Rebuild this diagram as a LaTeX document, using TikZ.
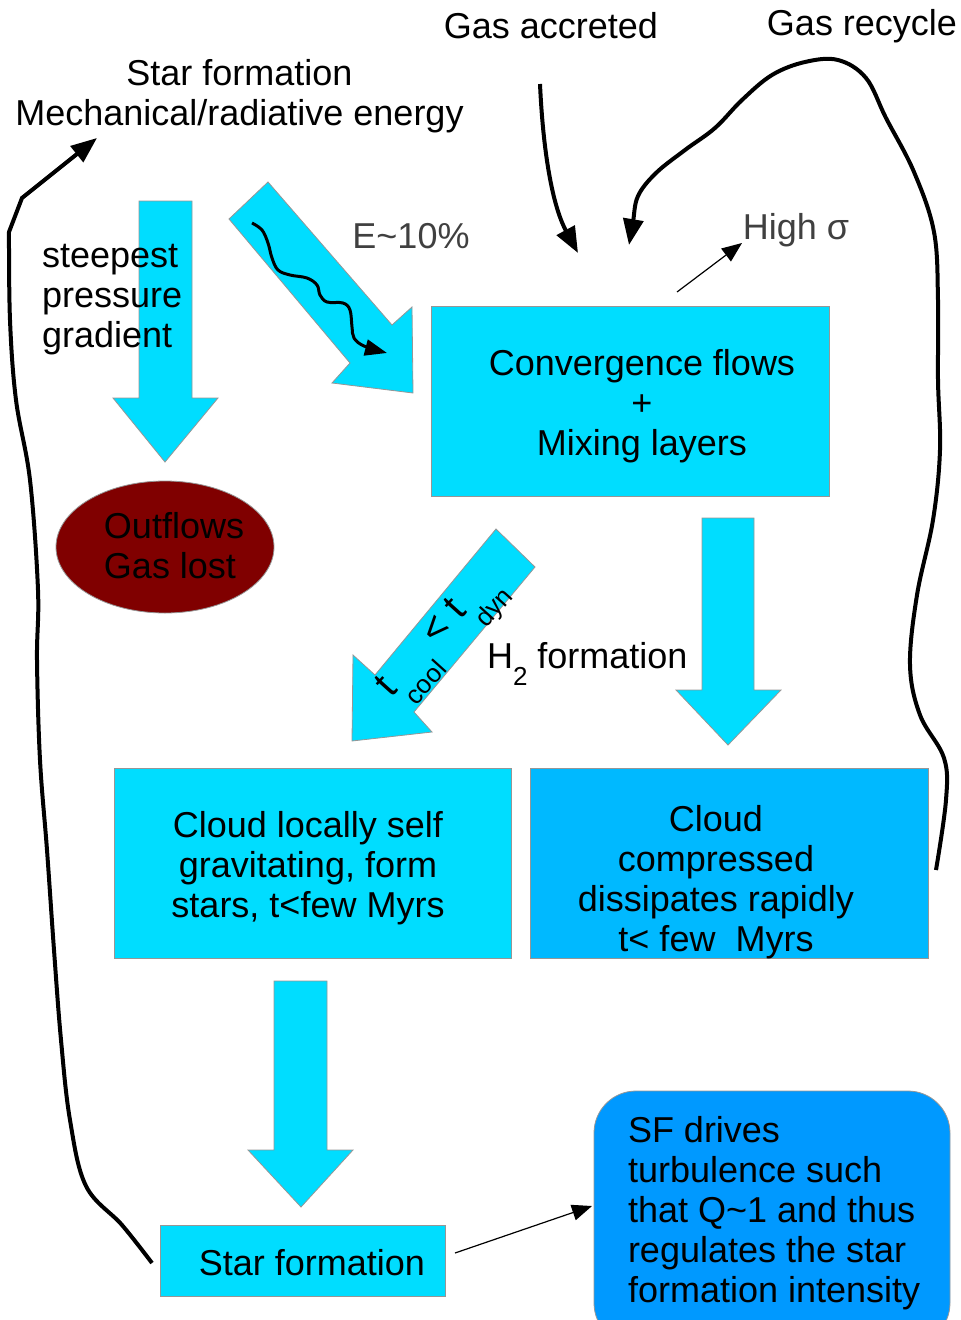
\documentclass[tikz,border=0pt]{standalone}
\usepackage{fontspec}
\setmainfont{Liberation Sans}
\usetikzlibrary{arrows.meta,shapes.geometric}
\definecolor{cyanA}{RGB}{0,221,255}
\definecolor{cyanB}{RGB}{0,185,255}
\definecolor{blueC}{RGB}{0,153,255}
\definecolor{darkred}{RGB}{128,0,0}
\definecolor{greytext}{RGB}{64,64,64}
\definecolor{edgegrey}{RGB}{150,150,150}
\newcommand{\subsz}{\fontsize{26}{26}\selectfont}
\begin{document}
\begin{tikzpicture}[x=1pt,y=-1pt,
  every node/.style={font=\fontsize{36}{40}\selectfont, inner sep=0pt, outer sep=0pt},
  boxst/.style={draw=edgegrey, line width=0.8pt, fill=cyanA},
  blockarrow/.style={draw=edgegrey, line width=0.8pt, fill=cyanA},
  bigline/.style={line width=4pt, -{Triangle[length=26pt,width=20pt]}},
  thinline/.style={line width=1.2pt, -{Triangle[length=20pt,width=16pt]}},
  wavyline/.style={line width=3pt, -{Triangle[length=22pt,width=16pt]}},
  greylbl/.style={text=greytext},
]
\useasboundingbox (0,0) rectangle (961,1320);

% block arrows
\draw[blockarrow] (139,201) -- (192,201) -- (192,398) -- (218,398) -- (165,462) -- (113,398) -- (139,398) -- cycle;
\draw[blockarrow] (229,219) -- (268,182) -- (392,325) -- (412,307) -- (413,393) -- (332,383) -- (350,363) -- cycle;
\draw[blockarrow] (496,529) -- (535,567) -- (414,712) -- (432,732) -- (352,741) -- (353,655) -- (375,675) -- cycle;
\draw[blockarrow] (702,518) -- (754,518) -- (754,690) -- (781,690) -- (728,745) -- (676,690) -- (702,690) -- cycle;
\draw[blockarrow] (274,981) -- (327,981) -- (327,1150) -- (353,1150) -- (301,1207) -- (248,1150) -- (274,1150) -- cycle;

% texts at top
\node[align=center] (sfmech) at (239.5,96) {Star formation\\Mechanical/radiative energy};
\node (gasacc) at (551,26) {Gas accreted};
\node (gasrec) at (862,26) {Gas recycle};
\node[anchor=west, align=left] (steep) at (42,300) {steepest\\pressure\\gradient};
\node[greylbl] (eten) at (411,236) {E\textasciitilde10\%};
\node[greylbl] (highs) at (796,230) {High σ};

% outflows
\node[ellipse, draw=edgegrey, line width=0.8pt, fill=darkred, minimum width=218pt, minimum height=132pt] (outf) at (165,547) {};
\node[align=left] (outft) at (174,546) {Outflows\\Gas lost};

% boxes
\node[boxst, minimum width=398pt, minimum height=190pt] (conv) at (630,401) {};
\node[align=center] (convt) at (642,406) {Convergence flows\\+\\Mixing layers};
\node[boxst, minimum width=397pt, minimum height=190pt] (cloudL) at (312.5,863) {};
\node[align=center] (cloudLt) at (308,868) {Cloud locally self\\gravitating, form\\stars, t<few Myrs};
\node[boxst, fill=cyanB, minimum width=398pt, minimum height=190pt] (cloudR) at (729,863) {};
\node[align=center] (cloudRt) at (716,882) {Cloud\\compressed\\dissipates rapidly\\t< few\ \ Myrs};
\node[boxst, minimum width=285pt, minimum height=71pt] (sfbox) at (302.5,1260.5) {};
\node (sfboxt) at (312,1263) {Star formation};

\begin{scope}
\clip (0,0) rectangle (961,1320);
\draw[draw=edgegrey, line width=0.8pt, fill=blueC, rounded corners=42pt] (594,1091) rectangle (950,1345);
\end{scope}
\node[anchor=west, align=left] (sfdrv) at (628,1213) {SF drives\\turbulence such\\that Q\textasciitilde1 and thus\\regulates the star\\formation intensity};

% rotated label on diagonal arrow
\node[rotate=48, font=\fontsize{40}{40}\selectfont] (tcool) at (445,641) {t\raisebox{-0.6em}{\subsz cool} < t\raisebox{-0.6em}{\subsz dyn}};
\node[anchor=west] (h2) at (487,664) {H\raisebox{-0.45em}{\subsz 2} formation};

% connectors
\coordinate (gaS) at (540,84);
\coordinate (gaE) at (578,253);
\draw[bigline] (gaS) .. controls (543,150) and (552,205) .. (gaE);

\coordinate (grS) at (936,870);
\coordinate (grE) at (629,245);
\draw[bigline] plot[smooth, tension=0.6] coordinates {(936,870) (946,800) (944,758) (920,715) (910,665) (917,595) (933,520) (940,450) (938,380) (938,300) (934,232) (914,172) (886,118) (866,78) (838,60) (805,62) (772,75) (742,100) (715,128) (685,150) (656,173) (638,196) (633,222) (629,245)};

\coordinate (lpS) at (152,1263);
\coordinate (lpE) at (97,138);
\draw[bigline] plot[smooth, tension=0.6] coordinates {(152,1263) (122,1225) (86,1186) (70,1120) (61,1040) (54,950) (47,850) (40,760) (37,660) (38,590) (30,480) (16,400) (10,320) (9,232)} -- (22,198) -- (lpE);

\coordinate (hsS) at (677,292);
\coordinate (hsE) at (742,243);
\draw[thinline] (hsS) -- (hsE);

\coordinate (sfS) at (455,1253);
\coordinate (sfE) at (592,1206);
\draw[thinline] (sfS) -- (sfE);

\draw[wavyline] plot[smooth, tension=0.6] coordinates {(252,223) (262,230) (268,243) (272,258) (278,270) (290,275) (307,278) (317,285) (320,295) (327,302) (343,303) (350,310) (352,327) (354,338) (364,346) (387,353)};
\end{tikzpicture}
\end{document}
